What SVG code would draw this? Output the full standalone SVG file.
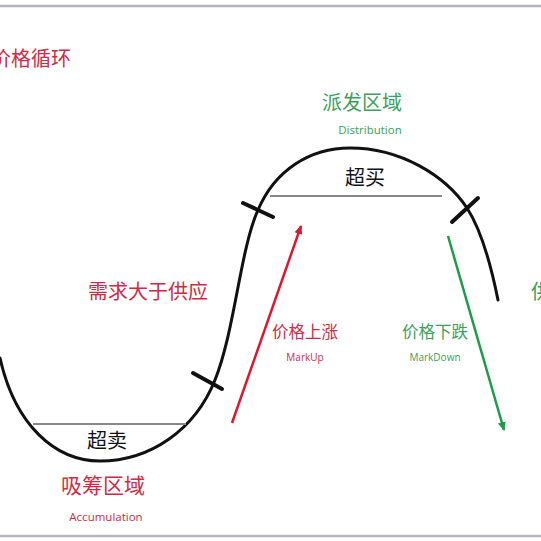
<svg xmlns="http://www.w3.org/2000/svg" width="541" height="541" viewBox="0 0 541 541">
<defs>
<style>
.cjk{font-family:"Noto Sans CJK SC","Noto Sans",sans-serif;}
.lat{font-family:"Open Sans","Liberation Sans",sans-serif;}
.red{fill:#d22a44;}
.green{fill:#3a9f5c;}
.blk{fill:#111;}
.curve{fill:none;stroke:#111;stroke-width:3;stroke-linecap:round;}
.tick{stroke:#111;stroke-width:4;stroke-linecap:round;}
.level{stroke:#888;stroke-width:2;}
</style>
<marker id="ahR" markerWidth="10" markerHeight="10" refX="8" refY="5" orient="auto" markerUnits="userSpaceOnUse"><path d="M0,1 L9,5 L0,9 Z" fill="#e0162b"/></marker>
<marker id="ahG" markerWidth="10" markerHeight="10" refX="8" refY="5" orient="auto" markerUnits="userSpaceOnUse"><path d="M0,1 L9,5 L0,9 Z" fill="#1a9e4a"/></marker>
</defs>
<rect x="0" y="0" width="541" height="541" fill="#fff"/>
<line x1="0" y1="6" x2="541" y2="6" stroke="#b4b4bc" stroke-width="2.5"/>
<line x1="0" y1="536" x2="541" y2="536" stroke="#b4b4bc" stroke-width="2.5"/>
<g id="connectors">
<path class="curve" d="M0,358 C15,425 55,461 100,461 C150,461 195,430 215,380 C235,330 240,250 258,210 C275,170 310,148 350,148 C400,148 445,175 467,208 C480,228 490,260 498,300"/>
<line class="level" x1="33" y1="424" x2="186" y2="424"/>
<line class="level" x1="270" y1="196" x2="442" y2="196"/>
<line class="tick" x1="193" y1="373" x2="222" y2="389"/>
<line class="tick" x1="243" y1="203" x2="273" y2="217"/>
<line class="tick" x1="452" y1="222" x2="478" y2="198"/>
<line x1="232" y1="423" x2="301" y2="226" stroke="#e0162b" stroke-width="2.5" marker-end="url(#ahR)"/>
<line x1="448" y1="236" x2="504" y2="430" stroke="#1a9e4a" stroke-width="2.5" marker-end="url(#ahG)"/>
</g>
<g id="title"><text class="cjk red" x="-9" y="66" font-size="20">价格循环</text></g>
<g id="distribution">
<text class="cjk green" x="362" y="110" font-size="20" text-anchor="middle">派发区域</text>
<text class="lat green" x="370" y="134" font-size="11.5" text-anchor="middle">Distribution</text>
</g>
<g id="overbought"><text class="cjk blk" x="365" y="185" font-size="20" text-anchor="middle">超买</text></g>
<g id="demand"><text class="cjk red" x="88" y="299" font-size="20">需求大于供应</text></g>
<g id="markup">
<text class="cjk red" x="305" y="338" font-size="16.5" text-anchor="middle">价格上涨</text>
<text class="lat red" x="305" y="361" font-size="10" text-anchor="middle">MarkUp</text>
</g>
<g id="markdown">
<text class="cjk green" x="435" y="338" font-size="16.5" text-anchor="middle">价格下跌</text>
<text class="lat green" x="435" y="361" font-size="10" text-anchor="middle">MarkDown</text>
</g>
<g id="supply"><text class="cjk green" x="531" y="299" font-size="20">供</text></g>
<g id="oversold"><text class="cjk blk" x="107" y="448" font-size="20" text-anchor="middle">超卖</text></g>
<g id="accumulation">
<text class="cjk red" x="103" y="493" font-size="21" text-anchor="middle">吸筹区域</text>
<text class="lat red" x="106" y="521" font-size="11.5" text-anchor="middle">Accumulation</text>
</g>
</svg>
